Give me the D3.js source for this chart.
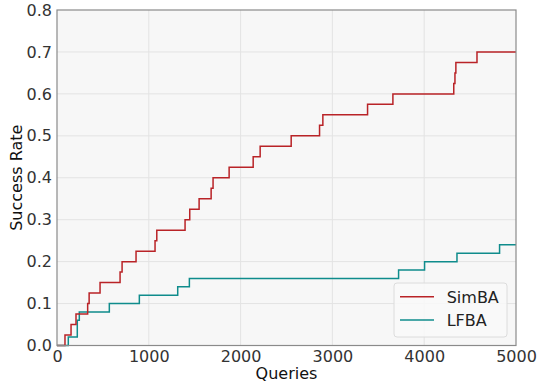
<!DOCTYPE html>
<html>
<head>
<meta charset="utf-8">
<script src="https://cdn.jsdelivr.net/npm/d3@7"></script>
<style>
  body { margin: 0; background: #fff; }
  svg { font-family: "DejaVu Sans", sans-serif; }
</style>
</head>
<body>
<svg width="537" height="383"></svg>
<script>
// step points: queries where the rate jumps, and the new rate
const simbaQueries = [0, 87, 153, 207, 334, 350, 469, 687, 709, 861, 1068, 1087, 1395, 1446, 1548, 1679, 1700, 1875, 2137, 2213, 2551, 2860, 2896, 3383, 3659, 4322, 4335, 4345, 4575, 5000];
const simbaRates   = [0, 0.025, 0.05, 0.075, 0.1, 0.125, 0.15, 0.175, 0.2, 0.225, 0.25, 0.275, 0.3, 0.325, 0.35, 0.375, 0.4, 0.425, 0.45, 0.475, 0.5, 0.525, 0.55, 0.575, 0.6, 0.625, 0.65, 0.675, 0.7, 0.7];

const lfbaQueries = [0, 123, 221, 243, 570, 897, 1315, 1442, 3721, 4004, 4357, 4821, 5000];
const lfbaRates   = [0, 0.02, 0.06, 0.08, 0.1, 0.12, 0.14, 0.16, 0.18, 0.2, 0.22, 0.24, 0.24];

const xTicks = [0, 1000, 2000, 3000, 4000, 5000];
const yTicks = [0, 0.1, 0.2, 0.3, 0.4, 0.5, 0.6, 0.7, 0.8];

const seriesNames = ["SimBA", "LFBA"];
const seriesColors = ["#b92327", "#0f8c8c"];

const svg = d3.select("svg");
const plotLeft = 57, plotRight = 516, plotTop = 10, plotBottom = 345.5;

const x = d3.scaleLinear().domain([0, 5000]).range([plotLeft, plotRight]);
const y = d3.scaleLinear().domain([0, 0.8]).range([plotBottom, plotTop]);

// plot background
svg.append("rect")
    .attr("x", plotLeft).attr("y", plotTop)
    .attr("width", plotRight - plotLeft).attr("height", plotBottom - plotTop)
    .attr("fill", "#f7f7f7");

// grid
svg.append("g").selectAll("line")
    .data(xTicks.slice(1, -1))
    .enter().append("line")
    .attr("x1", d => x(d)).attr("x2", d => x(d))
    .attr("y1", plotTop).attr("y2", plotBottom)
    .attr("stroke", "#e3e3e3").attr("stroke-width", 1);

svg.append("g").selectAll("line")
    .data(yTicks.slice(1, -1))
    .enter().append("line")
    .attr("x1", plotLeft).attr("x2", plotRight)
    .attr("y1", d => y(d)).attr("y2", d => y(d))
    .attr("stroke", "#e3e3e3").attr("stroke-width", 1);

// lines
const line = d3.line()
    .x(d => x(d[0]))
    .y(d => y(d[1]))
    .curve(d3.curveStepAfter);

const series = [
    d3.zip(simbaQueries, simbaRates),
    d3.zip(lfbaQueries, lfbaRates)
];

// draw LFBA first so SimBA sits on top
[1, 0].forEach(i => {
    svg.append("path")
        .datum(series[i])
        .attr("d", line)
        .attr("fill", "none")
        .attr("stroke", seriesColors[i])
        .attr("stroke-width", 1.5);
});

// frame
svg.append("rect")
    .attr("x", plotLeft).attr("y", plotTop)
    .attr("width", plotRight - plotLeft).attr("height", plotBottom - plotTop)
    .attr("fill", "none")
    .attr("stroke", "#8a8a8a").attr("stroke-width", 1.2);

// axes
const xAxis = svg.append("g")
    .attr("transform", `translate(0,${plotBottom})`)
    .call(d3.axisBottom(x).tickValues(xTicks).tickSize(0).tickPadding(5).tickFormat(d3.format("d")));
const yAxis = svg.append("g")
    .attr("transform", `translate(${plotLeft},0)`)
    .call(d3.axisLeft(y).tickValues(yTicks).tickSize(0).tickPadding(5).tickFormat(d3.format(".1f")));

[xAxis, yAxis].forEach(a => {
    a.select(".domain").remove();
    a.selectAll("text")
        .attr("font-size", 16)
        .attr("fill", "#333")
        .attr("font-family", "DejaVu Sans, sans-serif");
});

svg.append("text")
    .attr("x", (plotLeft + plotRight) / 2).attr("y", 379)
    .attr("text-anchor", "middle")
    .attr("font-size", 16).attr("fill", "#111")
    .text("Queries");

svg.append("text")
    .attr("transform", `translate(22,${(plotTop + plotBottom) / 2}) rotate(-90)`)
    .attr("text-anchor", "middle")
    .attr("font-size", 16).attr("fill", "#111")
    .text("Success Rate");

// legend
const legend = svg.append("g").attr("transform", "translate(394,283)");
legend.append("rect")
    .attr("width", 113).attr("height", 54)
    .attr("rx", 3)
    .attr("fill", "#f9f9f9").attr("fill-opacity", 0.85)
    .attr("stroke", "#dcdcdc");

const items = legend.selectAll("g.item")
    .data(seriesNames)
    .enter().append("g")
    .attr("class", "item")
    .attr("transform", (d, i) => `translate(0,${13.7 + i * 23.3})`);

items.append("line")
    .attr("x1", 6).attr("x2", 40)
    .attr("stroke", (d, i) => seriesColors[i])
    .attr("stroke-width", 1.5);

items.append("text")
    .attr("x", 52.7).attr("y", 6)
    .attr("font-size", 16).attr("fill", "#222")
    .text(d => d);
</script>
</body>
</html>
